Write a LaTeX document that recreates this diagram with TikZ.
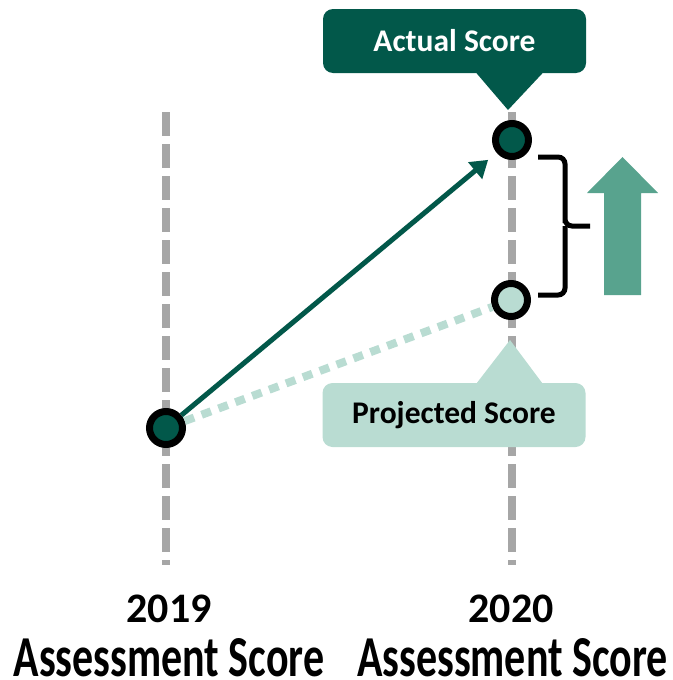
\documentclass[tikz,border=0pt]{standalone}
\usepackage{fontspec}
\setmainfont{Carlito}
\usetikzlibrary{arrows.meta,calc}

\definecolor{dkgreen}{HTML}{02584A}
\definecolor{ltgreen}{HTML}{B9DCD2}
\definecolor{midgreen}{HTML}{58A38E}
\definecolor{axisgray}{HTML}{A6A6A6}

\tikzset{
  score/.style={circle, draw=black, line width=7pt, minimum size=33pt, inner sep=0pt},
  axis/.style={axisgray, line width=8pt, dash pattern=on 24pt off 8pt},
  callout/.style={rounded corners=10pt, minimum width=263pt, minimum height=64pt,
    font=\bfseries\fontsize{31.5}{36}\selectfont},
  axislabel/.style={inner sep=0pt, font=\bfseries\fontsize{42}{50}\selectfont}
}

\begin{document}
\begin{tikzpicture}[x=1pt, y=-1pt, >=latex]
  \useasboundingbox (0,0) rectangle (672,680);
  % year axes
  \coordinate (top19) at (166,112);
  \coordinate (bot19) at (166,565);
  \coordinate (top20) at (512,112);
  \coordinate (bot20) at (512,565);
  \draw [axis] (top19) -- (bot19);
  \draw [axis] (top20) -- (bot20);

  % scores
  \node [score, fill=dkgreen] (start) at (166,428) {};
  \node [score, fill=dkgreen] (actual) at (512,140) {};
  \node [score, fill=ltgreen] (proj) at (511,300) {};

  \draw [ltgreen, line width=8pt, dash pattern=on 10pt off 8pt] (start) -- (proj);
  \draw [dkgreen, line width=5pt, -{Triangle[length=17pt,width=21pt]}, shorten >=11pt] (start) -- (actual);

  % brace between the two 2020 scores
  \coordinate (btop) at (538,157);
  \coordinate (bbot) at (538,295);
  \coordinate (btip) at (590,226);
  \draw [line width=5pt, rounded corners=7pt]
    (btop) -- ++(27,0) -- ($(btip)+(-25,-10)$) -- ($(btip)+(-25,0)$) -- (btip);
  \draw [line width=5pt, rounded corners=7pt]
    (bbot) -- ++(27,0) -- ($(btip)+(-25,10)$) -- ($(btip)+(-25,0)$);

  % gain arrow
  \fill [midgreen] (604,295) -- (604,193) -- (587,193) -- (622.5,157)
    -- (658,193) -- (641,193) -- (641,295) -- cycle;

  % callouts
  \node [callout, fill=dkgreen, text=white] (actlabel) at (454.5,41) {Actual Score};
  \fill [dkgreen] ($(actlabel.south)+(22,0)$) -- (508,110) -- ($(actlabel.south)+(88,0)$) -- cycle;
  \node [callout, fill=ltgreen] (projlabel) at (454,415) {Projected Score};
  \fill [ltgreen] ($(projlabel.north)+(23,0)$) -- (510,340) -- ($(projlabel.north)+(88,0)$) -- cycle;

  % years
  \node [axislabel, anchor=base] (year19) at (169,622) {2019};
  \node [axislabel, anchor=base, yscale=1.38] (lab19) at (169,676) {Assessment Score};
  \node [axislabel, anchor=base] (year20) at (511,622) {2020};
  \node [axislabel, anchor=base, yscale=1.38] (lab20) at (512.5,676) {Assessment Score};
\end{tikzpicture}
\end{document}
